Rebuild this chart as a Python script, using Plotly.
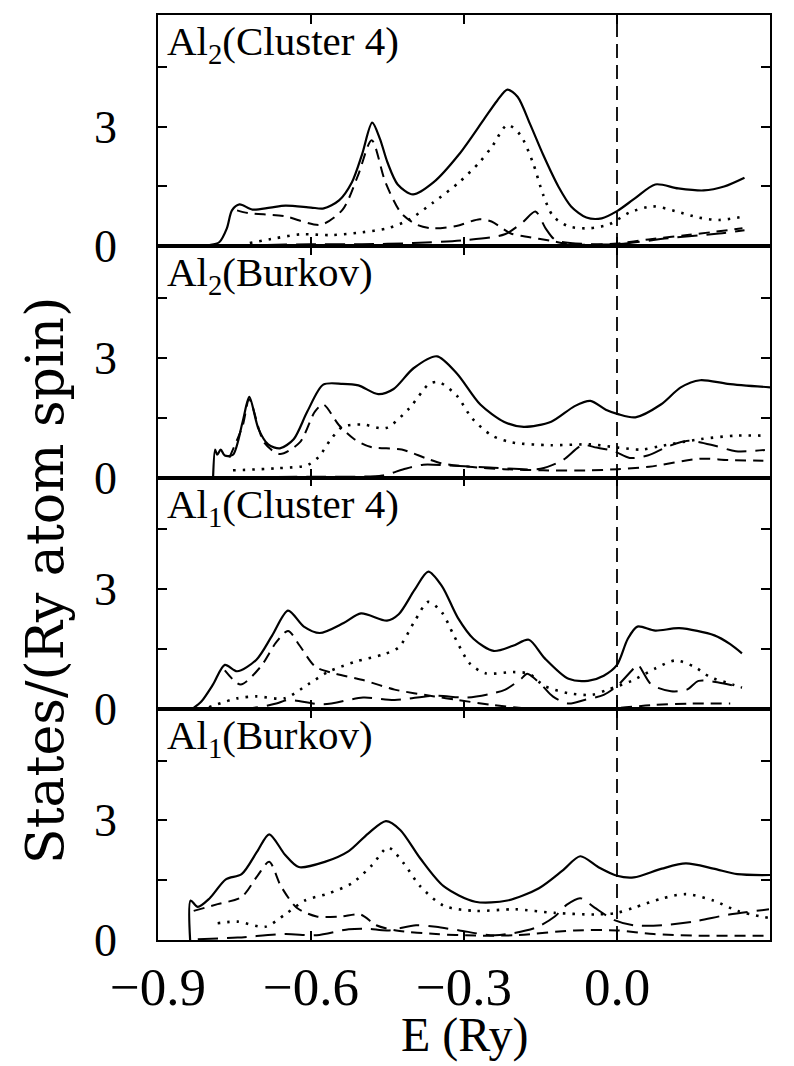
import plotly.graph_objects as go
from plotly.subplots import make_subplots

# ---------------- data (E in Ry, states/(Ry atom spin)) ----------------
# Panel 1: Al2 (Cluster 4)
p1_tot_E = [-0.83, -0.80, -0.78, -0.765, -0.755, -0.74, -0.715, -0.68, -0.65, -0.60, -0.575, -0.545, -0.52, -0.50,
            -0.48, -0.465, -0.45, -0.43, -0.40, -0.36, -0.31, -0.26, -0.235, -0.215, -0.195, -0.17, -0.145, -0.115,
            -0.09, -0.06, -0.03, 0.0, 0.035, 0.075, 0.12, 0.17, 0.21, 0.25]
p1_tot_v = [0.0, 0.03, 0.1, 0.45, 0.9, 1.05, 0.92, 0.97, 1.02, 0.97, 0.95, 1.15, 1.6, 2.3,
            3.1, 2.7, 2.1, 1.55, 1.3, 1.6, 2.3, 3.2, 3.65, 3.93, 3.75, 3.05, 2.3, 1.5,
            1.0, 0.72, 0.7, 0.88, 1.2, 1.55, 1.45, 1.4, 1.5, 1.72]
p1_s_E = [-0.745, -0.723, -0.654, -0.581, -0.538, -0.508, -0.481, -0.454, -0.423, -0.392, -0.362, -0.315, -0.269,
          -0.246, -0.208, -0.177, -0.131, -0.092, -0.054, 0.0, 0.062, 0.138, 0.246]
p1_s_v = [0.9, 0.83, 0.76, 0.54, 0.92, 1.77, 2.66, 1.6, 0.83, 0.54, 0.45, 0.51, 0.68,
          0.62, 0.32, 0.24, 0.14, 0.05, 0.04, 0.07, 0.17, 0.28, 0.45]
p1_p_E = [-0.72, -0.67, -0.62, -0.56, -0.50, -0.45, -0.41, -0.36, -0.31, -0.27, -0.245, -0.215, -0.19, -0.165,
          -0.145, -0.125, -0.095, -0.055, -0.015, 0.025, 0.07, 0.115, 0.16, 0.20, 0.25]
p1_p_v = [0.08, 0.2, 0.3, 0.28, 0.35, 0.45, 0.65, 1.1, 1.6, 2.1, 2.5, 3.04, 2.8, 2.1,
          1.3, 0.75, 0.5, 0.45, 0.55, 0.85, 1.0, 0.88, 0.72, 0.66, 0.75]
p1_d_E = [-0.80, -0.70, -0.60, -0.50, -0.40, -0.30, -0.22, -0.185, -0.16, -0.14, -0.12, -0.05, 0.0, 0.10, 0.20, 0.25]
p1_d_v = [0.0, 0.03, 0.05, 0.05, 0.08, 0.15, 0.3, 0.6, 0.87, 0.45, 0.15, 0.05, 0.05, 0.2, 0.32, 0.4]

# Panel 2: Al2 (Burkov)
p2_tot_E = [-0.792, -0.788, -0.784, -0.777, -0.769, -0.753, -0.734, -0.721, -0.703, -0.684, -0.661, -0.634, -0.607,
            -0.576, -0.538, -0.507, -0.468, -0.438, -0.399, -0.353, -0.314, -0.268, -0.222, -0.183, -0.129,
            -0.083, -0.052, -0.022, 0.002, 0.036, 0.086, 0.125, 0.163, 0.217, 0.30]
p2_tot_v = [0.0, 0.7, 0.57, 0.7, 0.55, 0.57, 1.4, 2.02, 1.22, 0.83, 0.73, 0.96, 1.66,
            2.33, 2.35, 2.31, 2.09, 2.22, 2.74, 3.04, 2.61, 1.83, 1.4, 1.27, 1.4,
            1.79, 1.92, 1.7, 1.59, 1.51, 1.83, 2.26, 2.44, 2.35, 2.26]
p2_s_E = [-0.76, -0.734, -0.721, -0.692, -0.661, -0.622, -0.592, -0.576, -0.545, -0.515, -0.484, -0.422, -0.376,
          -0.345, -0.291, -0.222, -0.145, -0.052, 0.002, 0.063, 0.163, 0.217, 0.287]
p2_s_v = [0.5, 1.3, 1.96, 0.88, 0.59, 0.88, 1.66, 1.83, 1.31, 0.96, 0.77, 0.7, 0.49,
          0.36, 0.27, 0.21, 0.18, 0.18, 0.21, 0.27, 0.47, 0.44, 0.42]
p2_p_E = [-0.753, -0.669, -0.607, -0.584, -0.561, -0.538, -0.499, -0.453, -0.407, -0.368, -0.349, -0.314, -0.284,
          -0.245, -0.206, -0.129, -0.052, 0.002, 0.048, 0.086, 0.163, 0.233, 0.287]
p2_p_v = [0.18, 0.23, 0.31, 0.53, 0.96, 1.27, 1.33, 1.24, 1.74, 2.35, 2.39, 2.05, 1.48,
          1.05, 0.88, 0.81, 0.83, 0.75, 0.7, 0.79, 0.96, 1.05, 1.05]
p2_d_E = [-0.78, -0.60, -0.46, -0.42, -0.38, -0.33, -0.25, -0.15, -0.106, -0.068, -0.04, -0.006, 0.025, 0.06,
          0.102, 0.14, 0.194, 0.233, 0.29]
p2_d_v = [0.0, 0.02, 0.05, 0.2, 0.32, 0.3, 0.25, 0.22, 0.44, 0.81, 0.75, 0.66, 0.49, 0.55,
          0.79, 0.92, 0.79, 0.66, 0.69]

# Panel 3: Al1 (Cluster 4)
p3_tot_E = [-0.83, -0.815, -0.792, -0.769, -0.745, -0.707, -0.676, -0.645, -0.614, -0.583, -0.536, -0.502, -0.451,
            -0.428, -0.397, -0.37, -0.343, -0.312, -0.281, -0.242, -0.204, -0.173, -0.142, -0.095, -0.057,
            -0.026, 0.0, 0.021, 0.04, 0.075, 0.122, 0.191, 0.222, 0.245]
p3_tot_v = [0.02, 0.18, 0.61, 1.1, 0.94, 1.23, 1.84, 2.46, 2.06, 1.9, 2.15, 2.39, 2.21,
            2.37, 2.98, 3.44, 3.07, 2.28, 1.75, 1.45, 1.58, 1.73, 1.27, 0.75, 0.7,
            0.83, 1.1, 1.75, 2.06, 1.96, 2.02, 1.84, 1.62, 1.39]
p3_s_E = [-0.769, -0.738, -0.699, -0.668, -0.645, -0.622, -0.591, -0.552, -0.498, -0.436, -0.358, -0.312, -0.242,
          -0.165, -0.087, 0.0, 0.067, 0.145, 0.222]
p3_s_v = [0.96, 0.61, 1.05, 1.67, 1.95, 1.58, 1.05, 0.88, 0.72, 0.48, 0.31, 0.22, 0.09,
          0.0, 0.0, 0.02, 0.09, 0.13, 0.13]
p3_p_E = [-0.80, -0.745, -0.707, -0.652, -0.606, -0.567, -0.513, -0.459, -0.428, -0.397, -0.37, -0.343, -0.32,
          -0.289, -0.258, -0.204, -0.173, -0.142, -0.095, -0.049, -0.018, 0.029, 0.075, 0.114, 0.152, 0.183,
          0.214, 0.245]
p3_p_v = [0.04, 0.26, 0.31, 0.26, 0.61, 0.92, 1.18, 1.36, 1.54, 2.19, 2.68, 2.41, 1.84,
          1.14, 0.89, 0.92, 0.88, 0.57, 0.39, 0.35, 0.48, 0.7, 1.01, 1.21, 1.05, 0.79,
          0.66, 0.53]
p3_d_E = [-0.80, -0.714, -0.668, -0.645, -0.575, -0.498, -0.436, -0.358, -0.296, -0.25, -0.219, -0.188, -0.176,
          -0.149, -0.126, -0.095, -0.064, -0.026, 0.0, 0.029, 0.04, 0.067, 0.106, 0.137, 0.16, 0.199, 0.245]
p3_d_v = [0.0, 0.02, 0.13, 0.22, 0.11, 0.28, 0.22, 0.33, 0.28, 0.37, 0.48, 0.75, 0.88,
          0.61, 0.31, 0.13, 0.22, 0.35, 0.57, 0.96, 1.11, 0.61, 0.44, 0.48, 0.7, 0.66, 0.53]

# Panel 4: Al1 (Burkov)
p4_tot_E = [-0.837, -0.836, -0.822, -0.799, -0.767, -0.736, -0.705, -0.682, -0.651, -0.624, -0.573, -0.526, -0.488,
            -0.453, -0.425, -0.386, -0.34, -0.278, -0.215, -0.153, -0.107, -0.072, -0.037, 0.0, 0.033, 0.088,
            0.135, 0.189, 0.236, 0.30]
p4_tot_v = [0.0, 0.99, 0.83, 1.04, 1.52, 1.65, 2.23, 2.65, 2.14, 1.83, 1.96, 2.23, 2.67,
            2.98, 2.76, 2.05, 1.35, 0.96, 0.99, 1.3, 1.74, 2.1, 1.83, 1.61, 1.57, 1.79,
            1.92, 1.79, 1.65, 1.63]
p4_s_E = [-0.83, -0.783, -0.736, -0.705, -0.682, -0.659, -0.628, -0.589, -0.542, -0.503, -0.472, -0.433, -0.355,
          -0.278, -0.20, -0.083, 0.0, 0.072, 0.15, 0.298]
p4_s_v = [0.73, 0.9, 1.08, 1.61, 1.96, 1.35, 0.81, 0.59, 0.59, 0.64, 0.37, 0.24, 0.15,
          0.11, 0.12, 0.24, 0.24, 0.15, 0.11, 0.11]
p4_p_E = [-0.783, -0.744, -0.69, -0.651, -0.612, -0.565, -0.519, -0.48, -0.449, -0.418, -0.386, -0.34, -0.278,
          -0.20, -0.122, -0.044, 0.0, 0.033, 0.088, 0.135, 0.189, 0.236, 0.298]
p4_p_v = [0.42, 0.46, 0.33, 0.64, 0.99, 1.17, 1.43, 1.88, 2.32, 1.92, 1.35, 0.86, 0.73,
          0.77, 0.68, 0.64, 0.68, 0.81, 1.04, 1.15, 0.99, 0.73, 0.55]
p4_d_E = [-0.822, -0.744, -0.651, -0.589, -0.526, -0.488, -0.449, -0.394, -0.355, -0.309, -0.239, -0.161, -0.122,
          -0.099, -0.072, -0.044, -0.005, 0.033, 0.088, 0.15, 0.22, 0.298]
p4_d_v = [0.02, 0.06, 0.15, 0.12, 0.27, 0.28, 0.24, 0.37, 0.33, 0.24, 0.12, 0.3, 0.59,
          0.88, 1.05, 0.81, 0.5, 0.37, 0.37, 0.46, 0.64, 0.77]

panel_labels = ["Al<sub>2</sub>(Cluster 4)", "Al<sub>2</sub>(Burkov)",
                "Al<sub>1</sub>(Cluster 4)", "Al<sub>1</sub>(Burkov)"]
x_tick_vals = [-0.9, -0.6, -0.3, 0.0, 0.3]
x_tick_text = ["\u22120.9", "\u22120.6", "\u22120.3", "0.0", "0.3"]
y_tick_vals = [0, 3]
y_tick_text = ["0", "3"]
y_minor_vals = [1.5, 4.5]
fermi_E = 0.0

panels = [
    (p1_tot_E, p1_tot_v, p1_s_E, p1_s_v, p1_p_E, p1_p_v, p1_d_E, p1_d_v),
    (p2_tot_E, p2_tot_v, p2_s_E, p2_s_v, p2_p_E, p2_p_v, p2_d_E, p2_d_v),
    (p3_tot_E, p3_tot_v, p3_s_E, p3_s_v, p3_p_E, p3_p_v, p3_d_E, p3_d_v),
    (p4_tot_E, p4_tot_v, p4_s_E, p4_s_v, p4_p_E, p4_p_v, p4_d_E, p4_d_v),
]

styles = [
    dict(color="black", width=2.2, dash="solid"),
    dict(color="black", width=2.0, dash="11px,7px"),
    dict(color="black", width=2.6, dash="2.5px,7px"),
    dict(color="black", width=2.0, dash="20px,9px"),
]

fig = make_subplots(rows=4, cols=1, shared_xaxes=True, vertical_spacing=0)

for i, pdata in enumerate(panels):
    row = i + 1
    for k in range(4):
        fig.add_trace(go.Scatter(x=pdata[2 * k], y=pdata[2 * k + 1], mode="lines",
                                 line=dict(shape="spline", smoothing=0.8, **styles[k]),
                                 showlegend=False, hoverinfo="skip"), row=row, col=1)
    fig.update_yaxes(row=row, col=1, range=[0, 5.8], tickvals=y_tick_vals, ticktext=y_tick_text,
                     ticks="inside", ticklen=9, tickwidth=2, tickcolor="black",
                     minor=dict(tickvals=y_minor_vals, ticks="inside", ticklen=9, tickwidth=2,
                                tickcolor="black", showgrid=False),
                     showline=True, linewidth=1.6, linecolor="black", mirror="ticks",
                     showgrid=False, zeroline=False,
                     tickfont=dict(family="Liberation Serif", size=46, color="black"),
                     ticklabelstandoff=30)
    fig.update_xaxes(row=row, col=1, range=[-0.9, 0.3], tickvals=x_tick_vals, ticktext=x_tick_text,
                     ticks="inside", ticklen=9, tickwidth=2, tickcolor="black",
                     showline=True, linewidth=1.6, linecolor="black", mirror="ticks",
                     showgrid=False, zeroline=False,
                     showticklabels=(row == 4),
                     tickfont=dict(family="Liberation Serif", size=53, color="black"),
                     ticklabelstandoff=0)
    xr = "x domain" if row == 1 else f"x{row} domain"
    yr = "y domain" if row == 1 else f"y{row} domain"
    fig.add_annotation(text=panel_labels[i], xref=xr, yref=yr, x=0.012, y=0.995,
                       xanchor="left", yanchor="top", showarrow=False,
                       font=dict(family="Liberation Serif", size=41, color="black"))

# Fermi level line through all panels
fig.add_shape(type="line", xref="x4", yref="paper", x0=fermi_E, x1=fermi_E, y0=0, y1=1,
              line=dict(color="black", width=1.8, dash="14px,7px"))

fig.add_annotation(text="States/(Ry atom spin)", xref="paper", yref="paper",
                   x=-0.185, y=0.389, textangle=-90, xanchor="center", yanchor="middle",
                   showarrow=False, font=dict(family="DejaVu Serif", size=52, color="black"))
fig.add_annotation(text="E (Ry)", xref="paper", yref="paper", x=0.5, y=-0.103,
                   xanchor="center", yanchor="middle", showarrow=False,
                   font=dict(family="Liberation Serif", size=48, color="black"))

fig.update_layout(width=794, height=1066, margin=dict(l=158, r=24, t=15, b=126),
                  paper_bgcolor="white", plot_bgcolor="white")

fig.write_html("out.html")
